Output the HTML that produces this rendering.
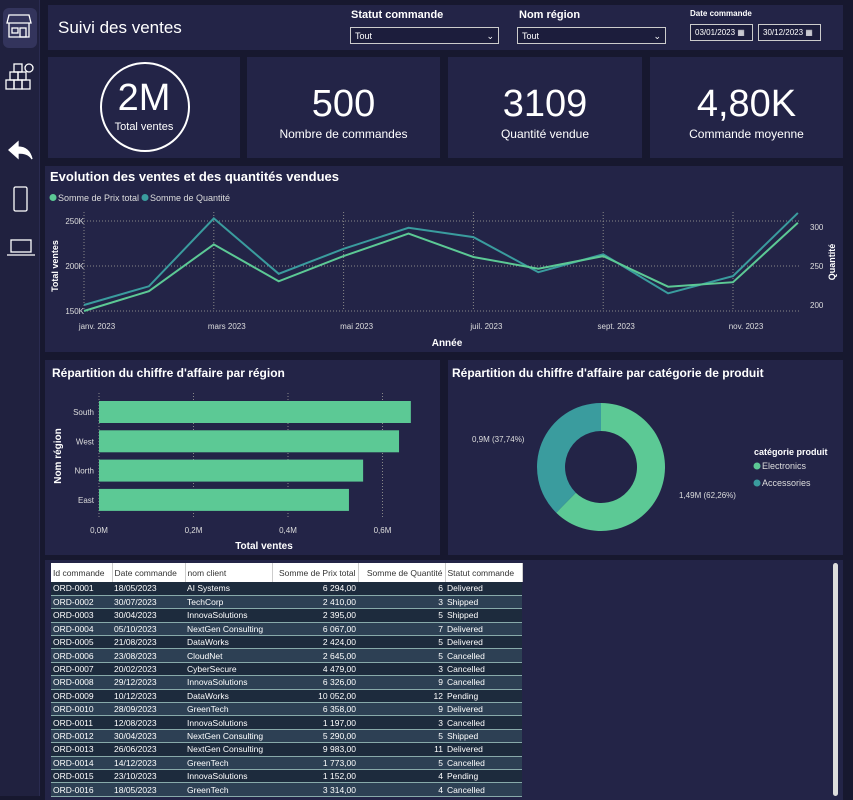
<!DOCTYPE html>
<html><head><meta charset="utf-8"><style>
*{box-sizing:border-box;margin:0;padding:0}
body{width:853px;height:796px;overflow:hidden;background:#17182f;font-family:"Liberation Sans",sans-serif;color:#fff;position:relative}
.p{position:absolute;background:#232447}
.kv{position:absolute;left:0;right:0;text-align:center}
.big{font-size:38px;top:26px}
.lab{font-size:12px;top:70px}
.sel{position:absolute;border:1px solid #ccc;height:17px;font-size:9px;padding:3px 4px;background:#1c1d3c}
.st{position:absolute;font-size:11px;font-weight:bold}
table{border-collapse:collapse;font-size:8.5px;position:absolute;left:51px;top:563px;width:471px;table-layout:fixed}
th{background:#fff;color:#333;font-weight:normal;text-align:left;padding:0 2px;height:19px;border-right:1px solid #ccc;white-space:nowrap;overflow:hidden}
td{padding:0 2px;height:13.4px;white-space:nowrap;border-bottom:1px solid #8aa;overflow:hidden}
tr:nth-child(odd) td{background:#1d2b3d}
tr:nth-child(even) td{background:#2d4054}
.r{text-align:right}
</style></head><body>
<div style="position:absolute;left:0;top:0;width:40px;height:796px;background:#20213f;border-right:1px solid #2a2b50">
<div style="position:absolute;left:3px;top:8px;width:34px;height:40px;border-radius:6px;background:#33345c"></div>
<svg width="40" height="270" style="position:absolute;left:0;top:0" stroke="#fff" fill="none" stroke-width="1.3">
<g><path d="M9 15h20l2 8H7z"/><path d="M9 23v14h20V23"/><rect x="12" y="28" width="6" height="5"/><rect x="20" y="28" width="6" height="9"/></g>
<g><rect x="6" y="80" width="8" height="9"/><rect x="14" y="80" width="8" height="9"/><rect x="22" y="80" width="8" height="9"/><rect x="10" y="72" width="8" height="8"/><rect x="18" y="72" width="8" height="8"/><rect x="14" y="64" width="8" height="8"/><circle cx="29" cy="68" r="4"/></g>
<path d="M9 150l9-8v5c7 0 12 4 14 12c-3-5-8-6-14-6v5z" fill="#fff"/>
<rect x="14" y="187" width="13" height="24" rx="1.5"/>
<g><rect x="11" y="240" width="20" height="12"/><path d="M7 255h28"/></g>
</svg></div>

<div class="p" style="left:48px;top:5px;width:795px;height:45px">
<div style="position:absolute;left:10px;top:13px;font-size:17px">Suivi des ventes</div>
<div class="st" style="left:303px;top:4px">Statut commande</div>
<div class="sel" style="left:302px;top:22px;width:149px">Tout<span style="float:right">⌄</span></div>
<div class="st" style="left:471px;top:4px">Nom région</div>
<div class="sel" style="left:469px;top:22px;width:149px">Tout<span style="float:right">⌄</span></div>
<div class="st" style="left:642px;top:4px;font-size:8px">Date commande</div>
<div class="sel" style="left:642px;top:19px;width:63px;font-size:8px">03/01/2023 ▦</div>
<div class="sel" style="left:710px;top:19px;width:63px;font-size:8px">30/12/2023 ▦</div>
</div>

<div class="p" style="left:48px;top:57px;width:192px;height:101px">
<div style="position:absolute;left:52px;top:5px;width:90px;height:90px;border:2px solid #fff;border-radius:50%"></div>
<div class="kv big" style="top:20px">2M</div>
<div class="kv" style="top:64px;font-size:11px">Total ventes</div></div>
<div class="p" style="left:247px;top:57px;width:193px;height:101px">
<div class="kv big">500</div><div class="kv lab">Nombre de commandes</div></div>
<div class="p" style="left:448px;top:57px;width:194px;height:101px">
<div class="kv big">3109</div><div class="kv lab">Quantité vendue</div></div>
<div class="p" style="left:650px;top:57px;width:193px;height:101px">
<div class="kv big">4,80K</div><div class="kv lab">Commande moyenne</div></div>

<div class="p" style="left:45px;top:166px;width:798px;height:186px"></div>
<div class="p" style="left:45px;top:360px;width:395px;height:195px"></div>
<div class="p" style="left:448px;top:360px;width:395px;height:195px"></div>
<div class="p" style="left:45px;top:560px;width:798px;height:240px"></div>
<div style="position:absolute;left:833px;top:563px;width:5px;height:233px;background:#ddd;border-radius:3px"></div>

<svg id="ch" width="853" height="796" style="position:absolute;left:0;top:0" font-family="Liberation Sans, sans-serif"></svg>

<table id="tb"><colgroup><col style="width:61px"><col style="width:73px"><col style="width:87px"><col style="width:86px"><col style="width:87px"><col style="width:77px"></colgroup><thead><tr>
<th>Id commande</th><th>Date commande</th><th>nom client</th><th class="r">Somme de Prix total</th><th class="r">Somme de Quantité</th><th>Statut commande</th></tr></thead><tbody>
<tr><td>ORD-0001</td><td>18/05/2023</td><td>AI Systems</td><td class="r">6 294,00</td><td class="r">6</td><td>Delivered</td></tr>
<tr><td>ORD-0002</td><td>30/07/2023</td><td>TechCorp</td><td class="r">2 410,00</td><td class="r">3</td><td>Shipped</td></tr>
<tr><td>ORD-0003</td><td>30/04/2023</td><td>InnovaSolutions</td><td class="r">2 395,00</td><td class="r">5</td><td>Shipped</td></tr>
<tr><td>ORD-0004</td><td>05/10/2023</td><td>NextGen Consulting</td><td class="r">6 067,00</td><td class="r">7</td><td>Delivered</td></tr>
<tr><td>ORD-0005</td><td>21/08/2023</td><td>DataWorks</td><td class="r">2 424,00</td><td class="r">5</td><td>Delivered</td></tr>
<tr><td>ORD-0006</td><td>23/08/2023</td><td>CloudNet</td><td class="r">2 645,00</td><td class="r">5</td><td>Cancelled</td></tr>
<tr><td>ORD-0007</td><td>20/02/2023</td><td>CyberSecure</td><td class="r">4 479,00</td><td class="r">3</td><td>Cancelled</td></tr>
<tr><td>ORD-0008</td><td>29/12/2023</td><td>InnovaSolutions</td><td class="r">6 326,00</td><td class="r">9</td><td>Cancelled</td></tr>
<tr><td>ORD-0009</td><td>10/12/2023</td><td>DataWorks</td><td class="r">10 052,00</td><td class="r">12</td><td>Pending</td></tr>
<tr><td>ORD-0010</td><td>28/09/2023</td><td>GreenTech</td><td class="r">6 358,00</td><td class="r">9</td><td>Delivered</td></tr>
<tr><td>ORD-0011</td><td>12/08/2023</td><td>InnovaSolutions</td><td class="r">1 197,00</td><td class="r">3</td><td>Cancelled</td></tr>
<tr><td>ORD-0012</td><td>30/04/2023</td><td>NextGen Consulting</td><td class="r">5 290,00</td><td class="r">5</td><td>Shipped</td></tr>
<tr><td>ORD-0013</td><td>26/06/2023</td><td>NextGen Consulting</td><td class="r">9 983,00</td><td class="r">11</td><td>Delivered</td></tr>
<tr><td>ORD-0014</td><td>14/12/2023</td><td>GreenTech</td><td class="r">1 773,00</td><td class="r">5</td><td>Cancelled</td></tr>
<tr><td>ORD-0015</td><td>23/10/2023</td><td>InnovaSolutions</td><td class="r">1 152,00</td><td class="r">4</td><td>Pending</td></tr>
<tr><td>ORD-0016</td><td>18/05/2023</td><td>GreenTech</td><td class="r">3 314,00</td><td class="r">4</td><td>Cancelled</td></tr>
</tbody></table>

<script>
const months=["janv. 2023","févr. 2023","mars 2023","avr. 2023","mai 2023","juin 2023","juil. 2023","août 2023","sept. 2023","oct. 2023","nov. 2023","déc. 2023"];
const salesK=[150,172,224,183,211,236,210,197,211,177,182,248];
const qty=[200,224,311,240,272,299,287,242,265,215,237,318];
const leftTicks=[150,200,250];
const rightTicks=[200,250,300];
const regions=["South","West","North","East"];
const regionSalesM=[0.66,0.635,0.559,0.529];
const barTicks=[0,0.2,0.4,0.6];
const categories=["Electronics","Accessories"];
const catValues=[1.49,0.9];
const catLabels=["1,49M (62,26%)","0,9M (37,74%)"];

const NS="http://www.w3.org/2000/svg",svg=document.getElementById('ch');
function E(t,a,txt){const e=document.createElementNS(NS,t);for(const k in a)e.setAttribute(k,a[k]);if(txt!=null)e.textContent=txt;svg.appendChild(e);return e;}
const G='#5cc995',T='#3a9c9e';
const xM=i=>84+i*64.9, yL=v=>311-(v-150)*0.9, yR=v=>305-(v-200)*0.78;
let e=E('text',{x:50,y:181,'font-size':13,'font-weight':'bold',fill:'#fff'},'Evolution des ventes et des quantités vendues');

e=E('circle',{cx:53,cy:197.5,r:3.5,fill:G});
e=E('text',{x:58,y:201,'font-size':9,fill:'#ddd'},'Somme de Prix total');
e=E('circle',{cx:145,cy:197.5,r:3.5,fill:T});
e=E('text',{x:150,y:201,'font-size':9,fill:'#ddd'},'Somme de Quantité');
leftTicks.forEach(v=>{e=E('line',{x1:84,x2:800,y1:yL(v),y2:yL(v),stroke:'#888','stroke-dasharray':'1 2'});
e=E('text',{x:84,y:yL(v)+3,'font-size':8,fill:'#ddd','text-anchor':'end'},v+'K');});
rightTicks.forEach(v=>{e=E('text',{x:810,y:yR(v)+3,'font-size':8,fill:'#ddd'},v);});
months.forEach((m,i)=>{if(i%2==0){e=E('line',{x1:xM(i),x2:xM(i),y1:212,y2:311,stroke:'#888','stroke-dasharray':'1 2'});
e=E('text',{x:xM(i)+13,y:329,'font-size':8,fill:'#ddd','text-anchor':'middle'},m);}});
e=E('polyline',{points:qty.map((v,i)=>xM(i)+','+yR(v)).join(' '),fill:'none',stroke:T,'stroke-width':2});
e=E('polyline',{points:salesK.map((v,i)=>xM(i)+','+yL(v)).join(' '),fill:'none',stroke:G,'stroke-width':2});
e=E('text',{x:447,y:346,'font-size':10,'font-weight':'bold',fill:'#fff','text-anchor':'middle'},'Année');
e=E('text',{x:0,y:0,'font-size':9,'font-weight':'bold',fill:'#fff','text-anchor':'middle',transform:'translate(58,266) rotate(-90)'},'Total ventes');
e=E('text',{x:0,y:0,'font-size':9,'font-weight':'bold',fill:'#fff','text-anchor':'middle',transform:'translate(835,262) rotate(-90)'},'Quantité');
const xB=v=>99+v*472.5, yB=i=>401+i*29.3;
e=E('text',{x:52,y:377,'font-size':12,'font-weight':'bold',fill:'#fff'},"Répartition du chiffre d'affaire par région");
barTicks.forEach(v=>{e=E('line',{x1:xB(v),x2:xB(v),y1:393,y2:518,stroke:'#888','stroke-dasharray':'1 2'});
e=E('text',{x:xB(v),y:533,'font-size':8,fill:'#ddd','text-anchor':'middle'},v.toFixed(1).replace('.',',')+'M');});
regions.forEach((r,i)=>{e=E('rect',{x:xB(0),y:yB(i),width:xB(regionSalesM[i])-xB(0),height:22,fill:G});
e=E('text',{x:94,y:yB(i)+14,'font-size':8,fill:'#ddd','text-anchor':'end'},r);});
e=E('text',{x:264,y:549,'font-size':10,'font-weight':'bold',fill:'#fff','text-anchor':'middle'},'Total ventes');
e=E('text',{x:0,y:0,'font-size':10,'font-weight':'bold',fill:'#fff','text-anchor':'middle',transform:'translate(61,456) rotate(-90)'},'Nom région');
e=E('text',{x:452,y:377,'font-size':12,'font-weight':'bold',fill:'#fff'},"Répartition du chiffre d'affaire par catégorie de produit");
const cx=601,cy=467,R=64,r0=36,tot=catValues.reduce((a,b)=>a+b,0);let a0=-Math.PI/2;const cols=[G,T];
catValues.forEach((v,i)=>{const a1=a0+v/tot*2*Math.PI,lg=(a1-a0)>Math.PI?1:0;
const p=(a,rr)=>(cx+rr*Math.cos(a)).toFixed(1)+' '+(cy+rr*Math.sin(a)).toFixed(1);
e=E('path',{d:`M${p(a0,R)}A${R} ${R} 0 ${lg} 1 ${p(a1,R)}L${p(a1,r0)}A${r0} ${r0} 0 ${lg} 0 ${p(a0,r0)}Z`,fill:cols[i]});
a0=a1;});
e=E('text',{x:679,y:498,'font-size':8,fill:'#ddd'},catLabels[0]);
e=E('text',{x:472,y:442,'font-size':8,fill:'#ddd'},catLabels[1]);
e=E('text',{x:754,y:455,'font-size':9,'font-weight':'bold',fill:'#fff'},'catégorie produit');
categories.forEach((c,i)=>{e=E('circle',{cx:757,cy:466+i*17,r:3.5,fill:cols[i]});
e=E('text',{x:762,y:469+i*17,'font-size':9,fill:'#ddd'},c);});
</script>
</body></html>
